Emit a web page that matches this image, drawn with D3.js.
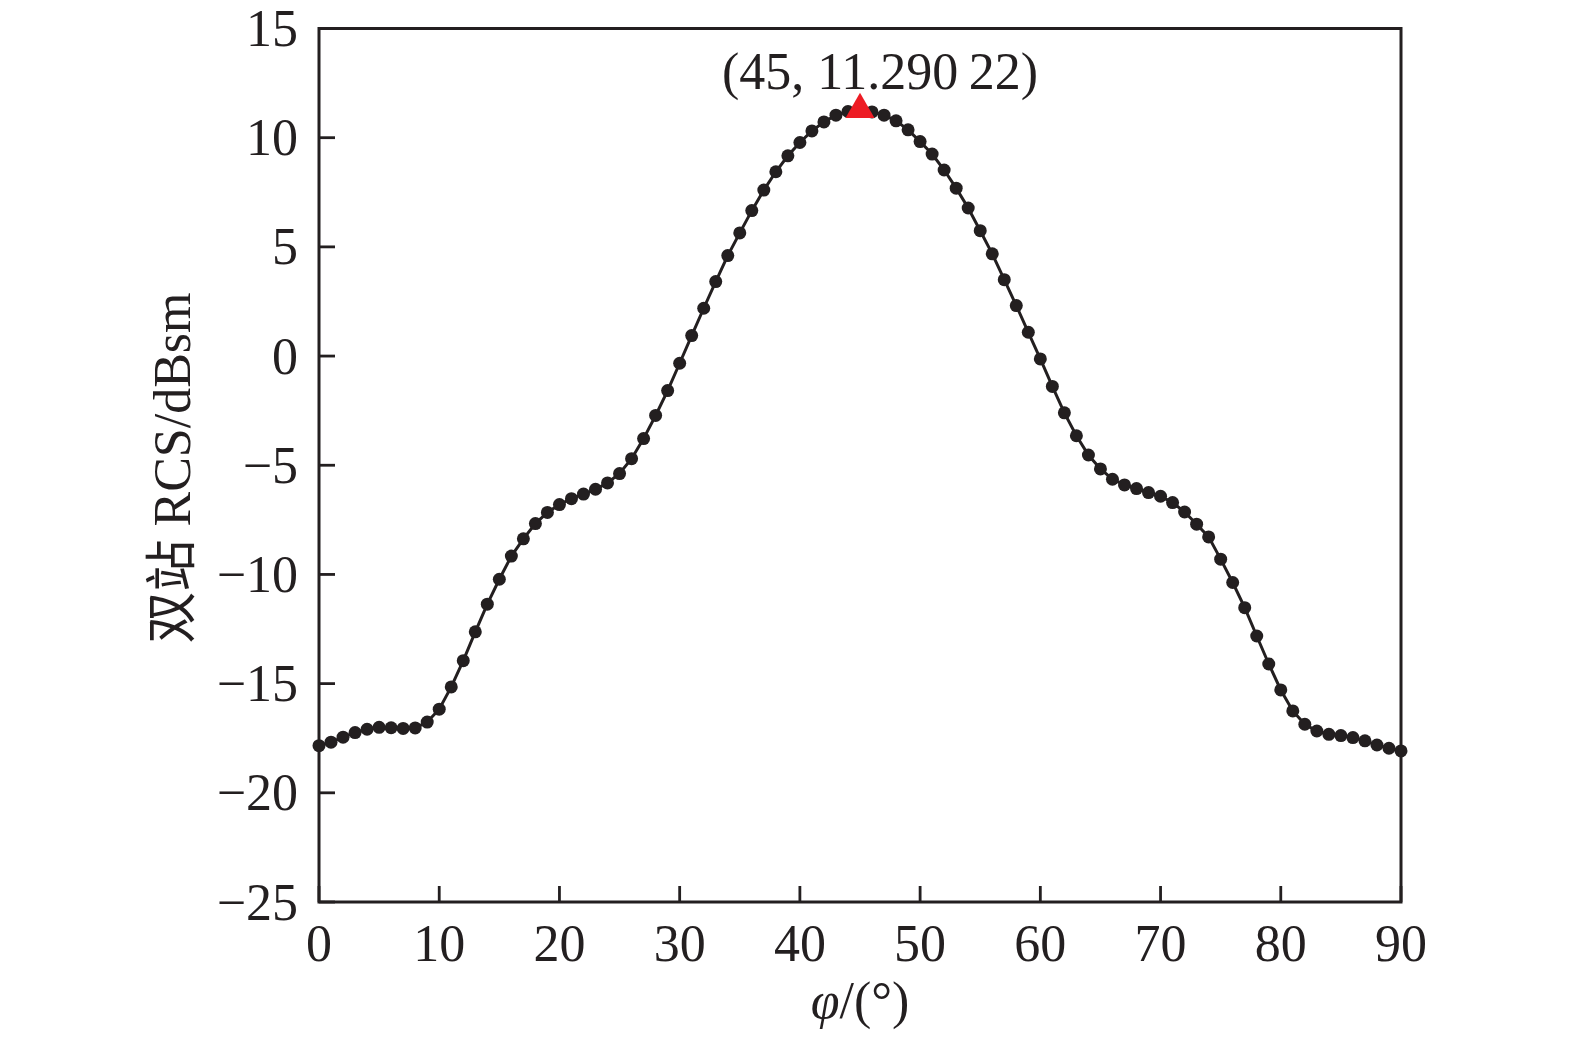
<!DOCTYPE html>
<html>
<head>
<meta charset="utf-8">
<script src="https://cdn.jsdelivr.net/npm/d3@7"></script>
<style>
  html, body { margin: 0; padding: 0; background: #fff; }
  svg { display: block; }
  text { font-family: "Liberation Serif", "Noto Sans CJK SC", serif; fill: #231f20; }
</style>
</head>
<body>
<script>
// ---- data ----
const phi = d3.range(0, 91);
const rcs = [
  -17.84, -17.68, -17.45, -17.24, -17.09, -17.00, -17.02, -17.05, -17.03, -16.76,
  -16.17, -15.15, -13.95, -12.63, -11.36, -10.22, -9.16, -8.37, -7.67, -7.16,
  -6.80, -6.53, -6.32, -6.10, -5.81, -5.38, -4.70, -3.78, -2.72, -1.58,
  -0.33, 0.94, 2.19, 3.41, 4.60, 5.64, 6.66, 7.60, 8.44, 9.17,
  9.78, 10.31, 10.72, 11.03, 11.20, 11.29, 11.18, 11.03, 10.77, 10.36,
  9.82, 9.25, 8.52, 7.69, 6.78, 5.74, 4.68, 3.50, 2.31, 1.09,
  -0.13, -1.39, -2.60, -3.65, -4.53, -5.17, -5.64, -5.90, -6.07, -6.25,
  -6.42, -6.71, -7.14, -7.70, -8.28, -9.30, -10.37, -11.52, -12.82, -14.10,
  -15.29, -16.25, -16.86, -17.17, -17.32, -17.38, -17.47, -17.62, -17.81, -17.96,
  -18.08
];
const xTicks = [0, 10, 20, 30, 40, 50, 60, 70, 80, 90];
const yTicks = [-25, -20, -15, -10, -5, 0, 5, 10, 15];
const peak = { x: 45, y: 11.29022, label: "(45, 11.290\u200922)" };
const xTitle = "φ/(°)";
const yTitle = "双站 RCS/dBsm";

// ---- layout ----
const W = 1575, H = 1039;
const mLeft = 319, mRight = 1401, mTop = 28.5, mBottom = 902;
const ink = "#231f20";

const x = d3.scaleLinear().domain([0, 90]).range([mLeft, mRight]);
const y = d3.scaleLinear().domain([-25, 15]).range([mBottom, mTop]);

const svg = d3.select("body").append("svg")
  .attr("width", W).attr("height", H)
  .attr("viewBox", `0 0 ${W} ${H}`);
svg.append("rect").attr("width", W).attr("height", H).attr("fill", "#fff");

// ticks (inward, left & bottom only)
const tickLen = 16;
svg.append("g").selectAll("line").data(yTicks).join("line")
  .attr("x1", mLeft).attr("x2", mLeft + tickLen)
  .attr("y1", d => y(d)).attr("y2", d => y(d))
  .attr("stroke", ink).attr("stroke-width", 2.8);
svg.append("g").selectAll("line").data(xTicks).join("line")
  .attr("x1", d => x(d)).attr("x2", d => x(d))
  .attr("y1", mBottom).attr("y2", mBottom - tickLen)
  .attr("stroke", ink).attr("stroke-width", 2.8);

// frame
svg.append("rect")
  .attr("x", mLeft).attr("y", mTop)
  .attr("width", mRight - mLeft).attr("height", mBottom - mTop)
  .attr("fill", "none").attr("stroke", ink).attr("stroke-width", 3);

// tick labels
const fs = 52;
svg.append("g").selectAll("text").data(yTicks).join("text")
  .attr("x", mLeft - 21).attr("y", d => y(d) + 17.5)
  .attr("text-anchor", "end").attr("font-size", fs)
  .text(d => d < 0 ? "\u2212" + Math.abs(d) : String(d));
svg.append("g").selectAll("text").data(xTicks).join("text")
  .attr("x", d => x(d)).attr("y", mBottom + 59)
  .attr("text-anchor", "middle").attr("font-size", fs)
  .text(d => String(d));

// axis titles
const xt = svg.append("text")
  .attr("x", (mLeft + mRight) / 2).attr("y", 1018)
  .attr("text-anchor", "middle").attr("font-size", fs);
xt.append("tspan").attr("font-style", "italic").text(xTitle.slice(0, 1));
xt.append("tspan").text(xTitle.slice(1));

svg.append("text")
  .attr("transform", `translate(190, 468) rotate(-90)`)
  .attr("text-anchor", "middle").attr("font-size", fs)
  .text(yTitle);

// line
const line = d3.line().x((d, i) => x(phi[i])).y(d => y(d));
svg.append("path").datum(rcs)
  .attr("d", line).attr("fill", "none")
  .attr("stroke", ink).attr("stroke-width", 3);

// dots
svg.append("g").selectAll("circle").data(rcs).join("circle")
  .attr("cx", (d, i) => x(phi[i])).attr("cy", d => y(d))
  .attr("r", 6.5).attr("fill", ink);

// peak marker
svg.append("path")
  .attr("d", d3.symbol(d3.symbolTriangle, 364)())
  .attr("transform", `translate(${x(peak.x)}, ${y(peak.y)})`)
  .attr("fill", "#ed1c24");

svg.append("text")
  .attr("x", x(peak.x) + 20).attr("y", 89)
  .attr("text-anchor", "middle").attr("font-size", fs)
  .text(peak.label);
</script>
</body>
</html>
